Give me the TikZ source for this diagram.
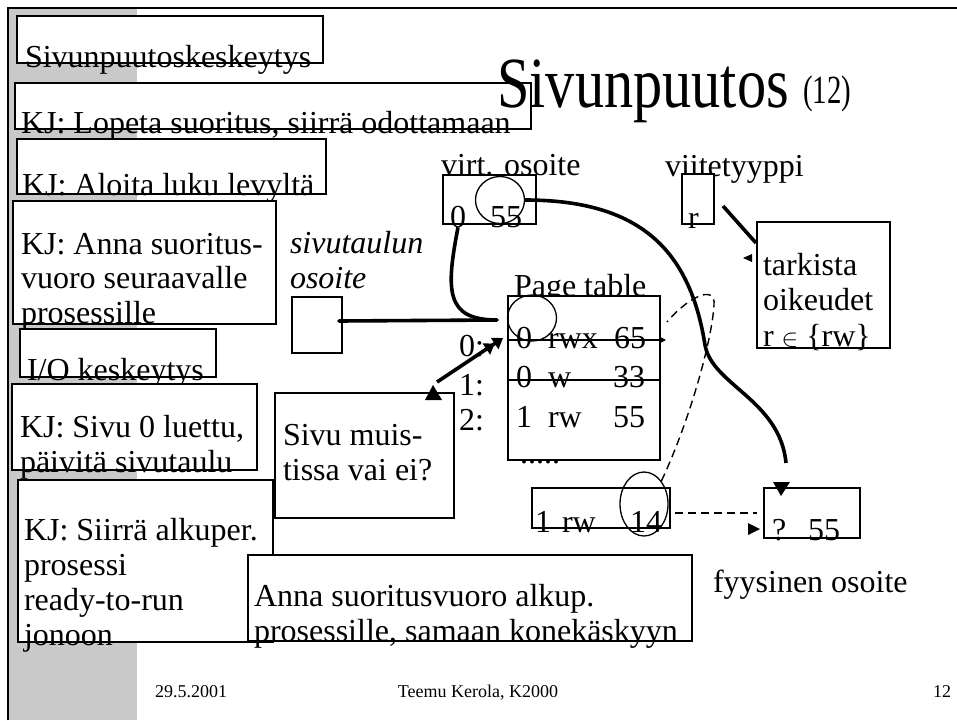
\documentclass[tikz,border=0pt]{standalone}
\usepackage{fontspec}
\usepackage{graphicx}
\setmainfont{Liberation Serif}
\usetikzlibrary{shapes.geometric,arrows.meta}
\begin{document}
\begin{tikzpicture}[x=1pt,y=-1pt,
  box/.style={draw, fill=white, line width=1.4pt, inner sep=0pt, outer sep=0pt, anchor=north west},
  txt/.style={anchor=base west, inner sep=0pt, outer sep=0pt, align=left, font=\fontsize{32}{34.5}\selectfont},
  ring/.style={draw, ellipse, line width=1.3pt, inner sep=0pt},
  conn/.style={line width=3.6pt},
  rule/.style={line width=1.4pt},
  dsh/.style={line width=1.4pt, dash pattern=on 8pt off 5pt},
  foot/.style={anchor=base west, inner sep=0pt, font=\fontsize{18}{20}\selectfont}]

\useasboundingbox (0,0) rectangle (957,720);

% slide template: grey side band and frame
\fill[black!21] (9,9) rectangle (137,720);
\draw[line width=1.4pt] (8,720) -- (8,8) -- (957,8);

% OS actions, left column (multi-line texts are placed by their last baseline)
\node[box, minimum width=306pt, minimum height=47pt] (b1) at (17,16) {};
\node[txt] (t1) at (25,67) {Sivunpuutoskeskeytys};
\node[box, minimum width=516pt, minimum height=46pt] (b2) at (15,83) {};
\node[txt] (t2) at (21,133) {KJ: Lopeta suoritus, siirrä odottamaan};
\node[box, minimum width=309pt, minimum height=55pt] (b3) at (17,139) {};
\node[txt] (t3) at (22,195) {KJ: Aloita luku levyltä};
\node[box, minimum width=263pt, minimum height=123pt] (b4) at (13,201) {};
\node[txt] (t4) at (21,323) {KJ: Anna suoritus-\\vuoro seuraavalle\\prosessille};
\node[box, minimum width=196pt, minimum height=48pt] (b5) at (20,329) {};
\node[txt] (t5) at (27,380) {I/O keskeytys};
\node[box, minimum width=245pt, minimum height=86pt] (b6) at (12,384) {};
\node[txt] (t6) at (20,472) {KJ: Sivu 0 luettu,\\päivitä sivutaulu};
\node[box, minimum width=255pt, minimum height=162pt] (b7) at (18,480) {};
\node[txt, font=\fontsize{32}{35}\selectfont] (t7) at (24,645) {KJ: Siirrä alkuper.\\prosessi\\ready-to-run\\jonoon};
\node[box, minimum width=179pt, minimum height=125pt] (b8) at (275,393) {};
\node[txt] (t8) at (283,480) {Sivu muis-\\tissa vai ei?};
\node[box, minimum width=444pt, minimum height=86pt] (b9) at (248,555) {};
\node[txt] (t9) at (254,641) {Anna suoritusvuoro alkup.\\prosessille, samaan konekäskyyn};

% title
\node[anchor=base west, inner sep=0pt] (title) at (497,107)
  {\fontsize{72}{80}\selectfont\scalebox{0.81}[1]{Sivunpuutos}};
\node[anchor=base west, inner sep=0pt] (num) at (803,103)
  {\fontsize{40}{44}\selectfont\scalebox{0.72}[1]{(12)}};

% page table base register
\node[txt, font=\fontsize{32}{34.5}\selectfont\itshape] (pto) at (290,288) {sivutaulun\\osoite};
\node[box, minimum width=50pt, minimum height=56pt] (sb) at (292,297) {};

% virtual address
\node[txt] (vlab) at (441,175) {virt. osoite};
\node[box, minimum width=93pt, minimum height=49pt] (vb) at (443,175) {};
\node[txt] (v0) at (450,227) {0};
\node[txt] (v55) at (490,227) {55};
\node[ring, minimum width=49pt, minimum height=47pt] (vc) at (500,200) {};

% reference type and the rights check
\node[txt] (rlab) at (665,176) {viitetyyppi};
\node[box, minimum width=32pt, minimum height=50pt] (rb) at (682,174) {};
\node[txt] (rr) at (688,228) {r};
\node[box, minimum width=133pt, minimum height=126pt] (tb) at (757,222) {};
\node[txt, font=\fontsize{32}{35.5}\selectfont] (tt) at (763,346) {tarkista\\oikeudet\\r $\in$ \{rw\}};

% page table
\node[txt] (ptlab) at (514,296) {Page table};
\node[box, minimum width=152pt, minimum height=164pt] (pt) at (508,296) {};
\node[txt] (r0a) at (516,348) {0};
\node[txt] (r0b) at (548,348) {rwx};
\node[txt] (r0c) at (614,348) {65};
\node[txt] (r1a) at (516,387) {0};
\node[txt] (r1b) at (548,387) {w};
\node[txt] (r1c) at (613,387) {33};
\node[txt] (r2a) at (516,427) {1};
\node[txt] (r2b) at (548,427) {rw};
\node[txt] (r2c) at (613,427) {55};
\node[txt] (dots) at (520,463) {.....};
\node[txt] (i0) at (459,356) {0:};
\node[txt] (i1) at (459,395) {1:};
\node[txt] (i2) at (459,430) {2:};
\node[ring, minimum width=49pt, minimum height=46pt] (pc) at (532,318) {};
\coordinate (s0a) at (508,340);
\coordinate (s0b) at (666,340);
\coordinate (s1a) at (508,380);
\coordinate (s1b) at (660,380);
\draw[rule, -{Triangle[length=7pt,width=7pt]}] (s0a) -- (s0b);
\draw[rule] (s1a) -- (s1b);

% page frame entry
\node[box, minimum width=138pt, minimum height=40pt] (lb) at (532,488) {};
\node[txt] (l1) at (535,532) {1};
\node[txt] (l2) at (562,532) {rw};
\node[txt] (l3) at (630,532) {14};
\node[ring, minimum width=48pt, minimum height=64pt] (lc) at (644,504) {};

% physical address
\node[box, minimum width=96pt, minimum height=50pt] (pb) at (764,488) {};
\node[txt] (p1) at (772,540) {?};
\node[txt] (p2) at (808,540) {55};
\node[txt] (plab) at (713,592) {fyysinen osoite};

% footer
\node[foot] (fdate) at (155,697) {29.5.2001};
\node[foot, anchor=base] (fauth) at (478,697) {Teemu Kerola, K2000};
\node[foot] (fpage) at (933,697) {12};

% connectors
\coordinate (ptin) at (497,320);
\coordinate (sbout) at (339,321);
\draw[conn] (v0.south) .. controls (446,290) and (445,320) .. (ptin);
\draw[conn, line cap=round] (sbout) -- (ptin);

\coordinate (chk) at (437,382);
\coordinate (row0) at (503,338);
\draw[conn, -{Triangle[length=10pt,width=13pt]Triangle[length=10pt,width=13pt]}] (chk) -- (row0);
\fill (433,385) -- (425,400) -- (442,400) -- cycle;

\coordinate (bend) at (705,345);
\coordinate (pin) at (786,463);
\draw[conn] (vc.east) .. controls (640,200) and (690,250) .. (bend)
  .. controls (712,385) and (780,400) .. (pin);
\fill (773,482) -- (790,482) -- (781,496) -- cycle;

\coordinate (ltop) at (714,305);
\coordinate (lend) at (667,322);
\draw[dsh] (lc.north east) .. controls (690,420) and (712,340) .. (ltop)
  .. controls (716,285) and (690,295) .. (lend);
\coordinate (dsa) at (675,513);
\coordinate (dsb) at (757,513);
\draw[dsh] (dsa) -- (dsb);
\fill (748,523) -- (748,535) -- (760,529) -- cycle;

\coordinate (ra) at (723,206);
\coordinate (rz) at (756,243);
\draw[conn] (ra) -- (rz);
\fill (743,258) -- (752,254) -- (752,262) -- cycle;
\end{tikzpicture}
\end{document}
